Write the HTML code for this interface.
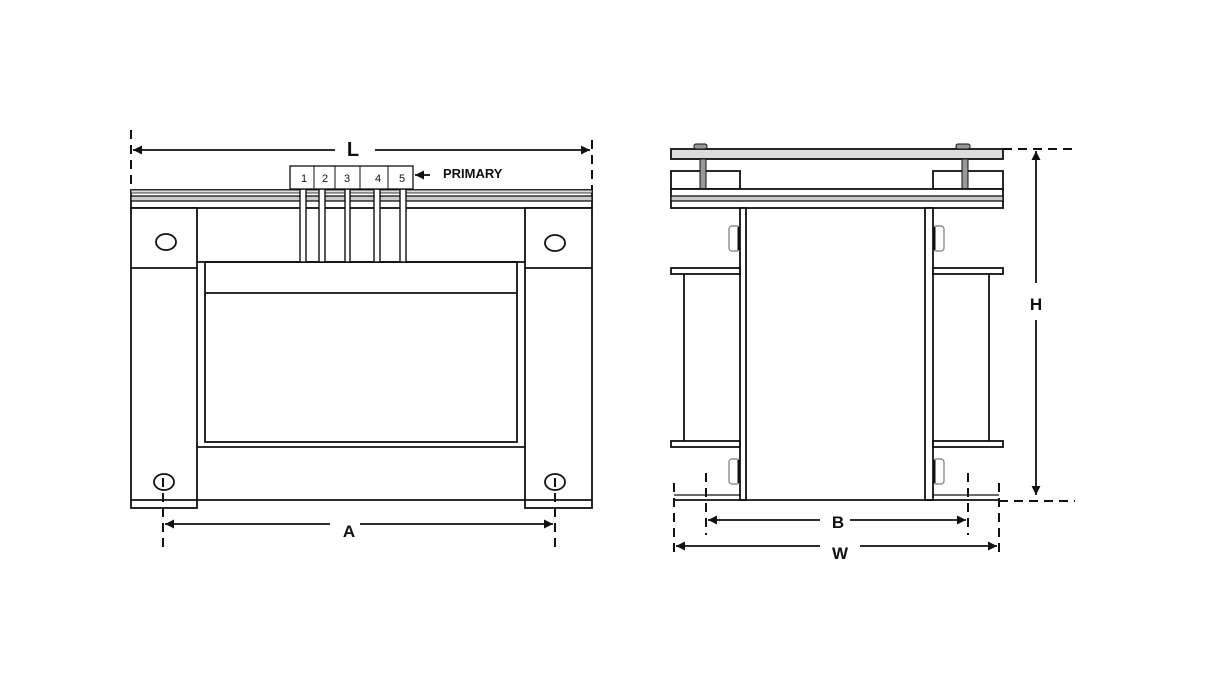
<!DOCTYPE html>
<html><head><meta charset="utf-8"><style>
html,body{margin:0;padding:0;background:#fff;width:1221px;height:690px;overflow:hidden}
svg{display:block}
text{font-family:"Liberation Sans",sans-serif;fill:#111}
</style></head><body>
<svg width="1221" height="690" viewBox="0 0 1221 690" xmlns="http://www.w3.org/2000/svg">
<defs>
<marker id="ar" viewBox="0 0 10 10" refX="10" refY="5" markerWidth="9" markerHeight="9" orient="auto-start-reverse" markerUnits="userSpaceOnUse"><path d="M0,0 L10,5 L0,10 z" fill="#111"/></marker>
</defs>
<g stroke="#111" stroke-width="1.8" fill="none">
<rect x="131" y="190" width="461" height="18" fill="#fff"/>
<rect x="131" y="196" width="461" height="5" fill="#ccc" stroke-width="1.3"/>
<rect x="131" y="190" width="461" height="3" fill="#ddd" stroke-width="0.8"/>
<rect x="131" y="208" width="66" height="300" fill="#fff"/>
<line x1="131" y1="268" x2="197" y2="268"/>
<rect x="525" y="208" width="67" height="300" fill="#fff"/>
<line x1="525" y1="268" x2="592" y2="268"/>
<line x1="131" y1="500" x2="592" y2="500"/>
<line x1="197" y1="262" x2="525" y2="262"/>
<line x1="197" y1="447" x2="525" y2="447"/>
<rect x="205" y="262" width="312" height="180"/>
<line x1="205" y1="293" x2="517" y2="293"/>
<ellipse cx="166" cy="242" rx="10" ry="8"/>
<ellipse cx="555" cy="243" rx="10" ry="8"/>
<ellipse cx="164" cy="482" rx="10" ry="8"/>
<ellipse cx="555" cy="482" rx="10" ry="8"/>
<g fill="#fff" stroke-width="1.4">
<rect x="300" y="189" width="6" height="73"/>
<rect x="319" y="189" width="6" height="73"/>
<rect x="345" y="189" width="5" height="73"/>
<rect x="374" y="189" width="6" height="73"/>
<rect x="400" y="189" width="6" height="73"/>
</g>
<rect x="290" y="166" width="123" height="23" fill="#fff" stroke-width="1.3"/>
<line x1="314" y1="166" x2="314" y2="189" stroke-width="1"/>
<line x1="335" y1="166" x2="335" y2="189" stroke-width="1"/>
<line x1="360" y1="166" x2="360" y2="189" stroke-width="1"/>
<line x1="388" y1="166" x2="388" y2="189" stroke-width="1"/>
<line x1="131" y1="130" x2="131" y2="190" stroke-width="2" stroke-dasharray="9,6"/>
<line x1="592" y1="140" x2="592" y2="190" stroke-width="2" stroke-dasharray="9,6"/>
<line x1="133" y1="150" x2="335" y2="150" marker-start="url(#ar)"/>
<line x1="375" y1="150" x2="590" y2="150" marker-end="url(#ar)"/>
<line x1="430" y1="175" x2="415" y2="175" marker-end="url(#ar)"/>
<line x1="163" y1="478" x2="163" y2="548" stroke-width="2" stroke-dasharray="9,6"/>
<line x1="555" y1="478" x2="555" y2="548" stroke-width="2" stroke-dasharray="9,6"/>
<line x1="165" y1="524" x2="330" y2="524" marker-start="url(#ar)"/>
<line x1="360" y1="524" x2="553" y2="524" marker-end="url(#ar)"/>

<rect x="671" y="149" width="332" height="10" fill="#ddd"/>
<rect x="694" y="144" width="13" height="5" fill="#999" rx="2" stroke-width="1"/>
<rect x="956" y="144" width="14" height="5" fill="#999" rx="2" stroke-width="1"/>
<rect x="671" y="171" width="69" height="18"/>
<rect x="933" y="171" width="70" height="18"/>
<rect x="700" y="159" width="6" height="30" fill="#999" stroke-width="1"/>
<rect x="962" y="159" width="6" height="30" fill="#999" stroke-width="1"/>
<rect x="671" y="189" width="332" height="19" fill="#fff"/>
<rect x="671" y="196" width="332" height="5" fill="#ccc" stroke-width="1.3"/>
<rect x="740" y="208" width="6" height="292" fill="#fff"/>
<rect x="925" y="208" width="8" height="292" fill="#fff"/>
<g stroke="#777" stroke-width="1.2">
<rect x="729" y="226" width="11" height="25" rx="3"/>
<rect x="933" y="226" width="11" height="25" rx="3"/>
<rect x="729" y="459" width="11" height="25" rx="3"/>
<rect x="933" y="459" width="11" height="25" rx="3"/>
</g>
<g stroke-width="3">
<line x1="739" y1="227" x2="739" y2="250"/>
<line x1="934" y1="227" x2="934" y2="250"/>
<line x1="739" y1="460" x2="739" y2="483"/>
<line x1="934" y1="460" x2="934" y2="483"/>
</g>
<rect x="671" y="268" width="69" height="6" fill="#fff"/>
<rect x="933" y="268" width="70" height="6" fill="#fff"/>
<rect x="671" y="441" width="69" height="6" fill="#fff"/>
<rect x="933" y="441" width="70" height="6" fill="#fff"/>
<line x1="684" y1="274" x2="684" y2="441"/>
<line x1="989" y1="274" x2="989" y2="441"/>
<line x1="674" y1="495" x2="740" y2="495" stroke-width="1.2"/>
<line x1="933" y1="495" x2="999" y2="495" stroke-width="1.2"/>
<line x1="674" y1="500" x2="999" y2="500"/>
<line x1="1003" y1="149" x2="1075" y2="149" stroke-width="2" stroke-dasharray="9,6"/>
<line x1="999" y1="501" x2="1075" y2="501" stroke-width="2" stroke-dasharray="9,6"/>
<line x1="1036" y1="151" x2="1036" y2="283" marker-start="url(#ar)"/>
<line x1="1036" y1="320" x2="1036" y2="495" marker-end="url(#ar)"/>
<line x1="706" y1="473" x2="706" y2="535" stroke-width="2" stroke-dasharray="9,6"/>
<line x1="968" y1="473" x2="968" y2="535" stroke-width="2" stroke-dasharray="9,6"/>
<line x1="708" y1="520" x2="820" y2="520" marker-start="url(#ar)"/>
<line x1="850" y1="520" x2="966" y2="520" marker-end="url(#ar)"/>
<line x1="674" y1="483" x2="674" y2="558" stroke-width="2" stroke-dasharray="9,6"/>
<line x1="999" y1="483" x2="999" y2="558" stroke-width="2" stroke-dasharray="9,6"/>
<line x1="676" y1="546" x2="820" y2="546" marker-start="url(#ar)"/>
<line x1="860" y1="546" x2="997" y2="546" marker-end="url(#ar)"/>
</g>
<g font-size="11">
<text x="304" y="182" text-anchor="middle">1</text>
<text x="325" y="182" text-anchor="middle">2</text>
<text x="347" y="182" text-anchor="middle">3</text>
<text x="378" y="182" text-anchor="middle">4</text>
<text x="402" y="182" text-anchor="middle">5</text>
</g>
<text x="443" y="178" font-size="13" font-weight="bold">PRIMARY</text>
<text x="353" y="156" font-size="20" font-weight="bold" text-anchor="middle">L</text>
<text x="349" y="537" font-size="17" font-weight="bold" text-anchor="middle">A</text>
<text x="1036" y="310" font-size="17" font-weight="bold" text-anchor="middle">H</text>
<text x="838" y="528" font-size="17" font-weight="bold" text-anchor="middle">B</text>
<text x="840" y="559" font-size="17" font-weight="bold" text-anchor="middle">W</text>
</svg>
</body></html>
